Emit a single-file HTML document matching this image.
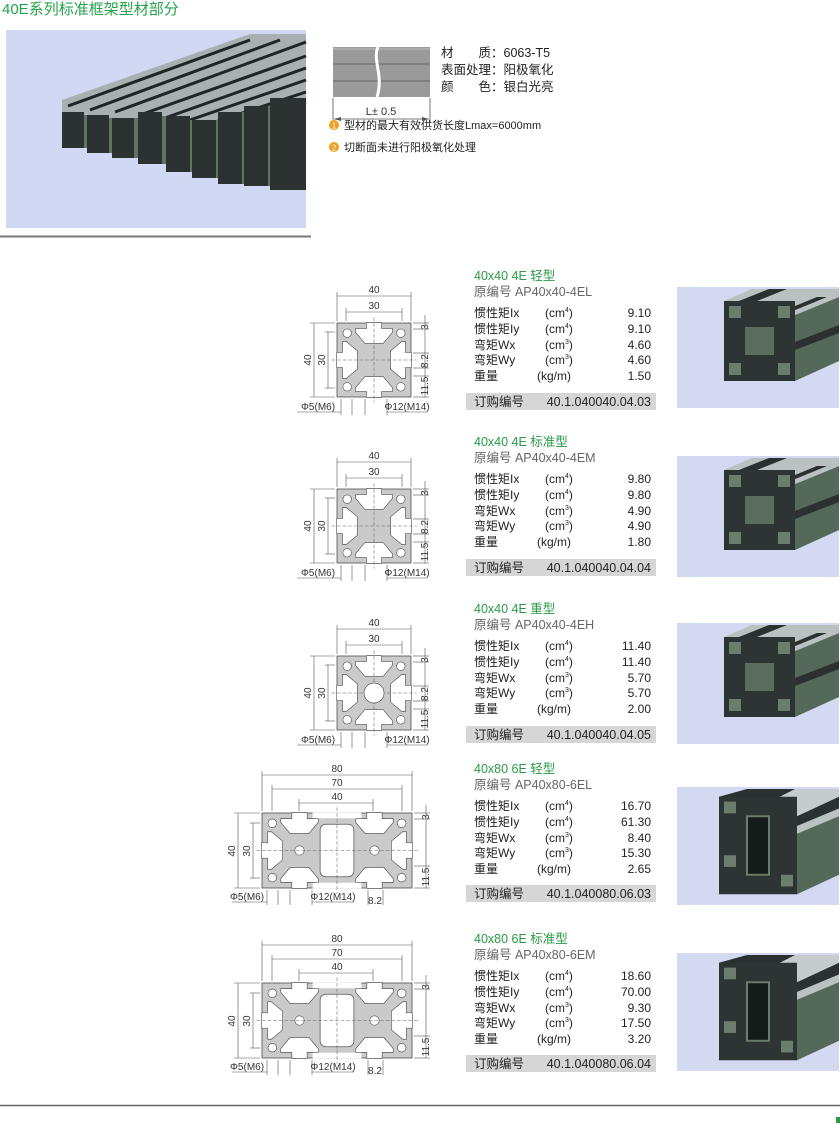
<!DOCTYPE html>
<html><head><meta charset="utf-8"><style>
html,body{margin:0;padding:0;background:#fff}
svg{display:block}
text{font-family:"Liberation Sans","Noto Sans CJK SC",sans-serif}
</style></head><body>
<svg width="840" height="1123" viewBox="0 0 840 1123" xmlns="http://www.w3.org/2000/svg">
<defs>
 <polygon id="slot" points="-4.1,-0.2 4.1,-0.2 4.1,3 10,3 10,5 5,11 -5,11 -10,5 -10,3 -4.1,3" fill="#fff" stroke="#555" stroke-width="0.35"/>
 <g id="p44">
  <rect x="0" y="0" width="40" height="40" fill="#cacaca" stroke="#444" stroke-width="0.4"/>
  <use href="#slot" transform="translate(20,0)"/>
  <use href="#slot" transform="translate(20,40) rotate(180)"/>
  <use href="#slot" transform="translate(0,20) rotate(-90)"/>
  <use href="#slot" transform="translate(40,20) rotate(90)"/>
  <circle cx="5.5" cy="5.5" r="2.3" fill="#fff" stroke="#555" stroke-width="0.35"/>
  <circle cx="34.5" cy="5.5" r="2.3" fill="#fff" stroke="#555" stroke-width="0.35"/>
  <circle cx="5.5" cy="34.5" r="2.3" fill="#fff" stroke="#555" stroke-width="0.35"/>
  <circle cx="34.5" cy="34.5" r="2.3" fill="#fff" stroke="#555" stroke-width="0.35"/>
  <line x1="-3" y1="20" x2="43" y2="20" stroke="#666" stroke-width="0.3" stroke-dasharray="2,1"/>
  <line x1="20" y1="-3" x2="20" y2="43" stroke="#666" stroke-width="0.3" stroke-dasharray="2,1"/>
 </g>
 <g id="p48">
  <rect x="0" y="0" width="80" height="40" fill="#cacaca" stroke="#444" stroke-width="0.4"/>
  <use href="#slot" transform="translate(20,0)"/>
  <use href="#slot" transform="translate(60,0)"/>
  <use href="#slot" transform="translate(20,40) rotate(180)"/>
  <use href="#slot" transform="translate(60,40) rotate(180)"/>
  <use href="#slot" transform="translate(0,20) rotate(-90)"/>
  <use href="#slot" transform="translate(80,20) rotate(90)"/>
  <rect x="31" y="6" width="18" height="28" rx="3" fill="#fff" stroke="#555" stroke-width="0.4"/>
  <rect x="27" y="-0.2" width="26" height="3" fill="#fff"/>
  <rect x="27" y="37.2" width="26" height="3" fill="#fff"/>
  <circle cx="5.5" cy="5.5" r="2.3" fill="#fff" stroke="#555" stroke-width="0.35"/>
  <circle cx="74.5" cy="5.5" r="2.3" fill="#fff" stroke="#555" stroke-width="0.35"/>
  <circle cx="5.5" cy="34.5" r="2.3" fill="#fff" stroke="#555" stroke-width="0.35"/>
  <circle cx="74.5" cy="34.5" r="2.3" fill="#fff" stroke="#555" stroke-width="0.35"/>
  <circle cx="20" cy="20" r="2.5" fill="#fff" stroke="#555" stroke-width="0.35"/>
  <circle cx="60" cy="20" r="2.5" fill="#fff" stroke="#555" stroke-width="0.35"/>
  <line x1="-3" y1="20" x2="83" y2="20" stroke="#666" stroke-width="0.3" stroke-dasharray="2,1"/>
  <line x1="40" y1="-3" x2="40" y2="43" stroke="#666" stroke-width="0.3" stroke-dasharray="2,1"/>
 </g>
 <g id="photo">
  <rect x="0" y="0" width="162" height="121" fill="#d2d9f1"/>
  <polygon points="118,28 162,10 162,74 118,94" fill="#55695a"/>
  <polygon points="47,14 75,2 162,2 162,10 118,28 47,28" fill="#b9c1c1"/>
  <polygon points="62,14 92,2 110,2 80,14" fill="#2b3030"/>
  <polygon points="96,28 140,10 150,10 106,28" fill="#2b3030"/>
  <polygon points="118,55 162,38 162,46 118,63" fill="#2b3030"/>
  <rect x="47" y="14" width="71" height="80" fill="#2d3434"/>
  <rect x="52" y="19" width="12" height="12" fill="#6b7d6c"/>
  <rect x="101" y="19" width="12" height="12" fill="#6b7d6c"/>
  <rect x="52" y="76" width="12" height="12" fill="#6b7d6c"/>
  <rect x="101" y="76" width="12" height="12" fill="#6b7d6c"/>
  <polygon points="68,40 97,40 97,68 68,68" fill="#5b6d5c"/>
 </g>
 <g id="photo2">
  <rect x="0" y="0" width="162" height="121" fill="#d2d9f1"/>
  <polygon points="120,40 162,22 162,90 120,110" fill="#55695a"/>
  <polygon points="42,10 70,2 162,2 162,22 120,40 42,40" fill="#2b3030"/>
  <polygon points="80,22 118,2 162,2 162,10 120,30 80,30" fill="#c5cccd"/>
  <polygon points="120,40 162,22 162,30 120,48" fill="#b9c1c1"/>
  <rect x="42" y="10" width="78" height="100" fill="#2d3434"/>
  <rect x="47" y="15" width="12" height="12" fill="#6b7d6c"/>
  <rect x="104" y="90" width="12" height="12" fill="#6b7d6c"/>
  <rect x="47" y="70" width="12" height="12" fill="#6b7d6c"/>
  <rect x="70" y="30" width="22" height="60" fill="#151a1a" stroke="#6b7d6c" stroke-width="2"/>
 </g>
</defs>

<text x="2" y="14" font-size="15" fill="#23a24a">40E系列标准框架型材部分</text>

<rect x="6" y="30" width="300" height="198" fill="#d0d8f3"/>
<g>
 <polygon points="62,100 250,34 306,34 306,120 290,130 62,130" fill="#a8b0b2"/>
 <g stroke="#1f2424" stroke-width="3">
  <line x1="68" y1="106" x2="250" y2="40"/>
  <line x1="90" y1="110" x2="280" y2="40"/>
  <line x1="115" y1="112" x2="306" y2="42"/>
  <line x1="140" y1="115" x2="306" y2="56"/>
  <line x1="165" y1="118" x2="306" y2="68"/>
  <line x1="190" y1="120" x2="306" y2="80"/>
  <line x1="215" y1="122" x2="306" y2="92"/>
  <line x1="240" y1="124" x2="306" y2="102"/>
 </g>
 <g fill="#2c3232">
  <rect x="62" y="112" width="22" height="36"/>
  <rect x="87" y="115" width="22" height="38"/>
  <rect x="112" y="118" width="22" height="40"/>
  <rect x="138" y="112" width="24" height="52"/>
  <rect x="166" y="116" width="24" height="56"/>
  <rect x="192" y="120" width="24" height="58"/>
  <rect x="218" y="112" width="24" height="72"/>
  <rect x="244" y="106" width="24" height="80"/>
  <rect x="270" y="98" width="36" height="92"/>
 </g>
 <g fill="#5f7462">
  <rect x="84" y="115" width="3" height="33"/>
  <rect x="109" y="118" width="3" height="35"/>
  <rect x="134" y="118" width="4" height="40"/>
  <rect x="162" y="116" width="4" height="48"/>
  <rect x="190" y="120" width="2" height="52"/>
  <rect x="216" y="120" width="2" height="58"/>
  <rect x="242" y="112" width="2" height="72"/>
  <rect x="268" y="106" width="2" height="80"/>
 </g>
</g>
<line x1="0" y1="236.5" x2="311" y2="236.5" stroke="#777" stroke-width="2"/>

<rect x="333" y="47" width="97" height="50" fill="#9a9a9a"/>
<line x1="333" y1="64" x2="430" y2="64" stroke="#666"/>
<line x1="333" y1="81" x2="430" y2="81" stroke="#666"/>
<line x1="333" y1="49" x2="430" y2="49" stroke="#bbb"/>
<path d="M378,47 C372,60 384,75 377,97" stroke="#fff" stroke-width="3" fill="none"/>
<line x1="333" y1="98" x2="333" y2="122" stroke="#555" stroke-width="0.8"/>
<line x1="430" y1="98" x2="430" y2="122" stroke="#555" stroke-width="0.8"/>
<line x1="334" y1="119" x2="429" y2="119" stroke="#555" stroke-width="0.8"/>
<polygon points="334,119 341,117 341,121" fill="#555"/>
<polygon points="429,119 422,117 422,121" fill="#555"/>
<text x="381" y="115" font-size="11" text-anchor="middle" fill="#333">L± 0.5</text>
<g font-size="12.5" fill="#222">
 <text x="441" y="57">材　　质：6063-T5</text>
 <text x="441" y="74">表面处理：阳极氧化</text>
 <text x="441" y="91">颜　　色：银白光亮</text>
</g>
<circle cx="334" cy="125" r="5" fill="#f0a020"/>
<text x="334" y="128.5" font-size="8" fill="#fff" text-anchor="middle">1</text>
<circle cx="334" cy="147" r="5" fill="#f0a020"/>
<text x="334" y="150.5" font-size="8" fill="#fff" text-anchor="middle">2</text>
<text x="344" y="129" font-size="11" fill="#222">型材的最大有效供货长度Lmax=6000mm</text>
<text x="344" y="151" font-size="11" fill="#222">切断面未进行阳极氧化处理</text>

<g transform="translate(0,275)">
 <text x="474" y="5" font-size="12.5" fill="#2a9a45">40x40 4E 轻型</text>
 <text x="474" y="21" font-size="12.5" fill="#666">原编号  AP40x40-4EL</text>
 <g font-size="12" fill="#222">
  <text x="474" y="42">惯性矩Ix</text><text x="545" y="42">(cm<tspan font-size="7" dy="-5">4</tspan><tspan dy="5">)</tspan></text><text x="651" y="42" text-anchor="end">9.10</text>
  <text x="474" y="58">惯性矩Iy</text><text x="545" y="58">(cm<tspan font-size="7" dy="-5">4</tspan><tspan dy="5">)</tspan></text><text x="651" y="58" text-anchor="end">9.10</text>
  <text x="474" y="74">弯矩Wx</text><text x="545" y="74">(cm<tspan font-size="7" dy="-5">3</tspan><tspan dy="5">)</tspan></text><text x="651" y="74" text-anchor="end">4.60</text>
  <text x="474" y="89">弯矩Wy</text><text x="545" y="89">(cm<tspan font-size="7" dy="-5">3</tspan><tspan dy="5">)</tspan></text><text x="651" y="89" text-anchor="end">4.60</text>
  <text x="474" y="105">重量</text><text x="537" y="105">(kg/m)</text><text x="651" y="105" text-anchor="end">1.50</text>
 </g>
 <rect x="466" y="118" width="190" height="17" fill="#d6d6d6"/>
 <text x="474" y="131" font-size="12.5" fill="#222">订购编号</text>
 <text x="651" y="131" font-size="12.5" fill="#222" text-anchor="end">40.1.040040.04.03</text>
 <use href="#photo" transform="translate(677,12)"/>
</g>
<g transform="translate(0,441)">
 <text x="474" y="5" font-size="12.5" fill="#2a9a45">40x40 4E 标准型</text>
 <text x="474" y="21" font-size="12.5" fill="#666">原编号  AP40x40-4EM</text>
 <g font-size="12" fill="#222">
  <text x="474" y="42">惯性矩Ix</text><text x="545" y="42">(cm<tspan font-size="7" dy="-5">4</tspan><tspan dy="5">)</tspan></text><text x="651" y="42" text-anchor="end">9.80</text>
  <text x="474" y="58">惯性矩Iy</text><text x="545" y="58">(cm<tspan font-size="7" dy="-5">4</tspan><tspan dy="5">)</tspan></text><text x="651" y="58" text-anchor="end">9.80</text>
  <text x="474" y="74">弯矩Wx</text><text x="545" y="74">(cm<tspan font-size="7" dy="-5">3</tspan><tspan dy="5">)</tspan></text><text x="651" y="74" text-anchor="end">4.90</text>
  <text x="474" y="89">弯矩Wy</text><text x="545" y="89">(cm<tspan font-size="7" dy="-5">3</tspan><tspan dy="5">)</tspan></text><text x="651" y="89" text-anchor="end">4.90</text>
  <text x="474" y="105">重量</text><text x="537" y="105">(kg/m)</text><text x="651" y="105" text-anchor="end">1.80</text>
 </g>
 <rect x="466" y="118" width="190" height="17" fill="#d6d6d6"/>
 <text x="474" y="131" font-size="12.5" fill="#222">订购编号</text>
 <text x="651" y="131" font-size="12.5" fill="#222" text-anchor="end">40.1.040040.04.04</text>
 <use href="#photo" transform="translate(677,15)"/>
</g>
<g transform="translate(0,608)">
 <text x="474" y="5" font-size="12.5" fill="#2a9a45">40x40 4E 重型</text>
 <text x="474" y="21" font-size="12.5" fill="#666">原编号  AP40x40-4EH</text>
 <g font-size="12" fill="#222">
  <text x="474" y="42">惯性矩Ix</text><text x="545" y="42">(cm<tspan font-size="7" dy="-5">4</tspan><tspan dy="5">)</tspan></text><text x="651" y="42" text-anchor="end">11.40</text>
  <text x="474" y="58">惯性矩Iy</text><text x="545" y="58">(cm<tspan font-size="7" dy="-5">4</tspan><tspan dy="5">)</tspan></text><text x="651" y="58" text-anchor="end">11.40</text>
  <text x="474" y="74">弯矩Wx</text><text x="545" y="74">(cm<tspan font-size="7" dy="-5">3</tspan><tspan dy="5">)</tspan></text><text x="651" y="74" text-anchor="end">5.70</text>
  <text x="474" y="89">弯矩Wy</text><text x="545" y="89">(cm<tspan font-size="7" dy="-5">3</tspan><tspan dy="5">)</tspan></text><text x="651" y="89" text-anchor="end">5.70</text>
  <text x="474" y="105">重量</text><text x="537" y="105">(kg/m)</text><text x="651" y="105" text-anchor="end">2.00</text>
 </g>
 <rect x="466" y="118" width="190" height="17" fill="#d6d6d6"/>
 <text x="474" y="131" font-size="12.5" fill="#222">订购编号</text>
 <text x="651" y="131" font-size="12.5" fill="#222" text-anchor="end">40.1.040040.04.05</text>
 <use href="#photo" transform="translate(677,15)"/>
</g>
<g transform="translate(0,768)">
 <text x="474" y="5" font-size="12.5" fill="#2a9a45">40x80 6E 轻型</text>
 <text x="474" y="21" font-size="12.5" fill="#666">原编号  AP40x80-6EL</text>
 <g font-size="12" fill="#222">
  <text x="474" y="42">惯性矩Ix</text><text x="545" y="42">(cm<tspan font-size="7" dy="-5">4</tspan><tspan dy="5">)</tspan></text><text x="651" y="42" text-anchor="end">16.70</text>
  <text x="474" y="58">惯性矩Iy</text><text x="545" y="58">(cm<tspan font-size="7" dy="-5">4</tspan><tspan dy="5">)</tspan></text><text x="651" y="58" text-anchor="end">61.30</text>
  <text x="474" y="74">弯矩Wx</text><text x="545" y="74">(cm<tspan font-size="7" dy="-5">3</tspan><tspan dy="5">)</tspan></text><text x="651" y="74" text-anchor="end">8.40</text>
  <text x="474" y="89">弯矩Wy</text><text x="545" y="89">(cm<tspan font-size="7" dy="-5">3</tspan><tspan dy="5">)</tspan></text><text x="651" y="89" text-anchor="end">15.30</text>
  <text x="474" y="105">重量</text><text x="537" y="105">(kg/m)</text><text x="651" y="105" text-anchor="end">2.65</text>
 </g>
 <rect x="466" y="117" width="190" height="17" fill="#d6d6d6"/>
 <text x="474" y="130" font-size="12.5" fill="#222">订购编号</text>
 <text x="651" y="130" font-size="12.5" fill="#222" text-anchor="end">40.1.040080.06.03</text>
 <use href="#photo2" transform="translate(677,19) scale(1,0.975)"/>
</g>
<g transform="translate(0,938)">
 <text x="474" y="5" font-size="12.5" fill="#2a9a45">40x80 6E 标准型</text>
 <text x="474" y="21" font-size="12.5" fill="#666">原编号  AP40x80-6EM</text>
 <g font-size="12" fill="#222">
  <text x="474" y="42">惯性矩Ix</text><text x="545" y="42">(cm<tspan font-size="7" dy="-5">4</tspan><tspan dy="5">)</tspan></text><text x="651" y="42" text-anchor="end">18.60</text>
  <text x="474" y="58">惯性矩Iy</text><text x="545" y="58">(cm<tspan font-size="7" dy="-5">4</tspan><tspan dy="5">)</tspan></text><text x="651" y="58" text-anchor="end">70.00</text>
  <text x="474" y="74">弯矩Wx</text><text x="545" y="74">(cm<tspan font-size="7" dy="-5">3</tspan><tspan dy="5">)</tspan></text><text x="651" y="74" text-anchor="end">9.30</text>
  <text x="474" y="89">弯矩Wy</text><text x="545" y="89">(cm<tspan font-size="7" dy="-5">3</tspan><tspan dy="5">)</tspan></text><text x="651" y="89" text-anchor="end">17.50</text>
  <text x="474" y="105">重量</text><text x="537" y="105">(kg/m)</text><text x="651" y="105" text-anchor="end">3.20</text>
 </g>
 <rect x="466" y="117" width="190" height="17" fill="#d6d6d6"/>
 <text x="474" y="130" font-size="12.5" fill="#222">订购编号</text>
 <text x="651" y="130" font-size="12.5" fill="#222" text-anchor="end">40.1.040080.06.04</text>
 <use href="#photo2" transform="translate(677,15) scale(1,0.975)"/>
</g>

<g id="d44">
 <g transform="translate(337,323)">
  <use href="#p44" transform="scale(1.85)"/>
  <g stroke="#555" stroke-width="0.6" fill="none">
   <line x1="0" y1="-31" x2="0" y2="-2"/><line x1="74" y1="-31" x2="74" y2="-2"/>
   <line x1="0" y1="-27" x2="74" y2="-27"/>
   <line x1="9" y1="-15" x2="9" y2="-2"/><line x1="65" y1="-15" x2="65" y2="-2"/>
   <line x1="9" y1="-11" x2="65" y2="-11"/>
   <line x1="-27" y1="0" x2="-2" y2="0"/><line x1="-27" y1="74" x2="-2" y2="74"/>
   <line x1="-23" y1="0" x2="-23" y2="74"/>
   <line x1="-12" y1="9" x2="-2" y2="9"/><line x1="-12" y1="65" x2="-2" y2="65"/>
   <line x1="-9" y1="9" x2="-9" y2="65"/>
   <line x1="76" y1="0" x2="92" y2="0"/><line x1="76" y1="6" x2="92" y2="6"/>
   <line x1="88" y1="-8" x2="88" y2="74"/>
   <line x1="76" y1="30" x2="92" y2="30"/><line x1="76" y1="45" x2="92" y2="45"/>
   <line x1="76" y1="53" x2="92" y2="53"/><line x1="76" y1="74" x2="92" y2="74"/>
   <line x1="-40" y1="89" x2="4" y2="89"/><line x1="50" y1="89" x2="90" y2="89"/>
   <line x1="4" y1="76" x2="4" y2="92"/><line x1="15" y1="76" x2="15" y2="92"/>
   <line x1="28" y1="76" x2="28" y2="92"/><line x1="50" y1="76" x2="50" y2="92"/>
  </g>
  <g font-size="10" fill="#333" text-anchor="middle">
   <text x="37" y="-30">40</text>
   <text x="37" y="-14">30</text>
   <text transform="translate(-26,37) rotate(-90)">40</text>
   <text transform="translate(-12,37) rotate(-90)">30</text>
   <text transform="translate(91,4) rotate(-90)">3</text>
   <text transform="translate(91,38) rotate(-90)">8.2</text>
   <text transform="translate(91,63) rotate(-90)">11.5</text>
   <text x="-19" y="87">Φ5(M6)</text>
   <text x="70" y="87">Φ12(M14)</text>
  </g>
 </g>
</g>
<use href="#d44" transform="translate(0,166)"/>
<g transform="translate(0,333)">
 <use href="#d44"/>
 <circle cx="374" cy="360" r="10" fill="#fff" stroke="#555" stroke-width="0.7"/>
</g>

<g id="d48">
 <g transform="translate(262,813)">
  <use href="#p48" transform="scale(1.875)"/>
  <g stroke="#555" stroke-width="0.6" fill="none">
   <line x1="0" y1="-42" x2="0" y2="-2"/><line x1="150" y1="-42" x2="150" y2="-2"/>
   <line x1="0" y1="-38" x2="150" y2="-38"/>
   <line x1="10" y1="-28" x2="10" y2="-2"/><line x1="140" y1="-28" x2="140" y2="-2"/>
   <line x1="10" y1="-24" x2="140" y2="-24"/>
   <line x1="37" y1="-14" x2="37" y2="-2"/><line x1="111" y1="-14" x2="111" y2="-2"/>
   <line x1="37" y1="-10" x2="111" y2="-10"/>
   <line x1="-28" y1="0" x2="-2" y2="0"/><line x1="-28" y1="75" x2="-2" y2="75"/>
   <line x1="-24" y1="0" x2="-24" y2="75"/>
   <line x1="-12" y1="10" x2="-2" y2="10"/><line x1="-12" y1="65" x2="-2" y2="65"/>
   <line x1="-9" y1="10" x2="-9" y2="65"/>
   <line x1="152" y1="0" x2="168" y2="0"/><line x1="152" y1="6" x2="168" y2="6"/>
   <line x1="164" y1="-8" x2="164" y2="75"/>
   <line x1="152" y1="53" x2="168" y2="53"/><line x1="152" y1="75" x2="168" y2="75"/>
   <line x1="-30" y1="89" x2="5" y2="89"/><line x1="50" y1="89" x2="92" y2="89"/>
   <line x1="5" y1="77" x2="5" y2="92"/><line x1="16" y1="77" x2="16" y2="92"/>
   <line x1="28" y1="77" x2="28" y2="92"/><line x1="50" y1="77" x2="50" y2="92"/>
   <line x1="106" y1="77" x2="106" y2="92"/><line x1="121" y1="77" x2="121" y2="92"/>
  </g>
  <g font-size="10" fill="#333" text-anchor="middle">
   <text x="75" y="-41">80</text>
   <text x="75" y="-27">70</text>
   <text x="75" y="-13">40</text>
   <text transform="translate(-27,38) rotate(-90)">40</text>
   <text transform="translate(-12,38) rotate(-90)">30</text>
   <text transform="translate(167,4) rotate(-90)">3</text>
   <text transform="translate(167,64) rotate(-90)">11.5</text>
   <text x="-15" y="87">Φ5(M6)</text>
   <text x="71" y="87">Φ12(M14)</text>
   <text x="113" y="91">8.2</text>
  </g>
 </g>
</g>
<use href="#d48" transform="translate(0,170)"/>

<line x1="0" y1="1105.5" x2="840" y2="1105.5" stroke="#666" stroke-width="1.5"/>
<rect x="836" y="1117" width="4" height="6" fill="#2a9a45"/>
</svg>
</body></html>
